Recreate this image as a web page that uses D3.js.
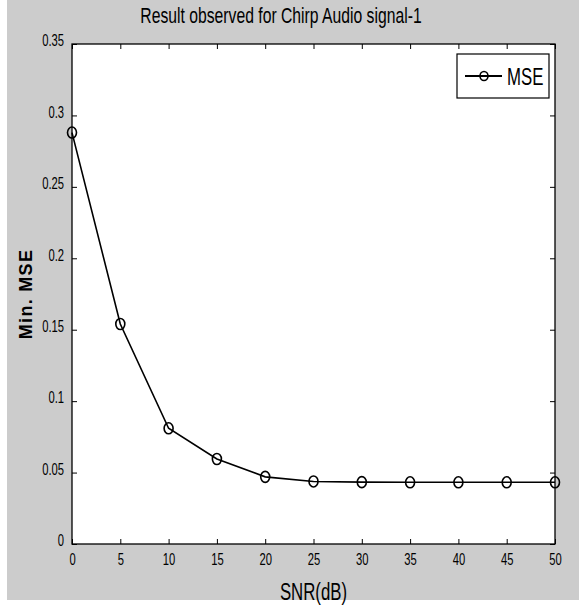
<!DOCTYPE html>
<html>
<head>
<meta charset="utf-8">
<script src="https://cdn.jsdelivr.net/npm/d3@7"></script>
<style>
  body { margin: 0; background: #fff; }
  text { font-family: "Liberation Sans", Arial, sans-serif; fill: #000; }
</style>
</head>
<body>
<svg class="chart" width="579" height="605"></svg>
<script>
var snr = [0, 5, 10, 15, 20, 25, 30, 35, 40, 45, 50];
var mse = [0.288, 0.154, 0.081, 0.0595, 0.047, 0.0438, 0.0433, 0.0432, 0.0432, 0.0432, 0.0432];
var xTicks = [0, 5, 10, 15, 20, 25, 30, 35, 40, 45, 50];
var yTicks = [0, 0.05, 0.1, 0.15, 0.2, 0.25, 0.3, 0.35];

var svg = d3.select(".chart"),
  margin = { top: 44, right: 24, bottom: 61, left: 72 },
  width = +svg.attr("width") - margin.left - margin.right,
  height = +svg.attr("height") - margin.top - margin.bottom;

// text is squeezed horizontally to look like the narrow font of the original
var narrow = "scale(0.7,1)";

// figure background
svg.append("rect")
  .attr("x", 7).attr("y", 0)
  .attr("width", 572).attr("height", 600)
  .attr("fill", "#cccccc");

var g = svg.append("g")
  .attr("transform", "translate(" + margin.left + "," + margin.top + ")");

var x = d3.scaleLinear().domain([0, 50]).range([0, width]);
var y = d3.scaleLinear().domain([0, 0.35]).range([height, 0]);

g.append("rect")
  .attr("width", width).attr("height", height)
  .attr("fill", "#fff");

function fmt(d) { return d === 0 ? "0" : String(+d.toFixed(2)); }

// inner ticks on all four sides
var ax = g.append("g").attr("transform", "translate(0," + height + ")")
  .call(d3.axisBottom(x).tickValues(xTicks).tickSizeInner(-5).tickSizeOuter(0).tickPadding(9).tickFormat(fmt));
var axTop = g.append("g")
  .call(d3.axisTop(x).tickValues(xTicks).tickSizeInner(-5).tickSizeOuter(0).tickFormat(""));
var ay = g.append("g")
  .call(d3.axisLeft(y).tickValues(yTicks).tickSizeInner(-5).tickSizeOuter(0).tickPadding(12).tickFormat(fmt));
var ayR = g.append("g").attr("transform", "translate(" + width + ",0)")
  .call(d3.axisRight(y).tickValues(yTicks).tickSizeInner(-5).tickSizeOuter(0).tickFormat(""));

[ax, axTop, ay, ayR].forEach(function (a) {
  a.select(".domain").remove();
  a.selectAll("line").attr("stroke", "#000");
  a.selectAll("text")
    .attr("font-size", 17)
    .attr("font-family", "'Liberation Sans', Arial, sans-serif")
    .attr("transform", "scale(0.66,1)");
});
ay.selectAll("text").attr("dy", "0.1em");

g.append("rect")
  .attr("width", width).attr("height", height)
  .attr("fill", "none").attr("stroke", "#000").attr("stroke-width", 1.3);

var data = snr.map(function (d, i) { return { s: d, m: mse[i] }; });

var line = d3.line()
  .x(function (d) { return x(d.s); })
  .y(function (d) { return y(d.m); });

g.append("path")
  .datum(data)
  .attr("fill", "none")
  .attr("stroke", "#000")
  .attr("stroke-width", 1.6)
  .attr("d", line);

g.selectAll(".pt")
  .data(data)
  .enter()
  .append("ellipse")
  .attr("class", "pt")
  .attr("cx", function (d) { return x(d.s); })
  .attr("cy", function (d) { return y(d.m); })
  .attr("rx", 4.5).attr("ry", 5.5)
  .attr("fill", "none")
  .attr("stroke", "#000")
  .attr("stroke-width", 1.6);

// title and axis labels
svg.append("g")
  .attr("transform", "translate(281,23)")
  .append("text")
  .attr("transform", "scale(0.715,1)")
  .attr("text-anchor", "middle")
  .attr("font-size", 22)
  .text("Result observed for Chirp Audio signal-1");

svg.append("g")
  .attr("transform", "translate(" + (margin.left + width / 2) + ",600)")
  .append("text")
  .attr("transform", narrow)
  .attr("text-anchor", "middle")
  .attr("font-size", 24)
  .text("SNR(dB)");

svg.append("text")
  .attr("transform", "translate(32," + (margin.top + height / 2) + ") rotate(-90)")
  .attr("text-anchor", "middle")
  .attr("font-size", 18)
  .attr("font-weight", "bold")
  .attr("letter-spacing", 1.3)
  .text("Min. MSE");

// legend
var legend = svg.append("g").attr("transform", "translate(457,54)");
legend.append("rect")
  .attr("width", 92).attr("height", 44)
  .attr("fill", "#fff").attr("stroke", "#000").attr("stroke-width", 1.2);
legend.append("line")
  .attr("x1", 8).attr("x2", 45).attr("y1", 22).attr("y2", 22)
  .attr("stroke", "#000").attr("stroke-width", 2);
legend.append("ellipse")
  .attr("cx", 27).attr("cy", 22).attr("rx", 4).attr("ry", 4.5)
  .attr("fill", "none").attr("stroke", "#000").attr("stroke-width", 1.6);
legend.append("g")
  .attr("transform", "translate(50,31)")
  .append("text")
  .attr("transform", narrow)
  .attr("font-size", 24)
  .text("MSE");
</script>
</body>
</html>
